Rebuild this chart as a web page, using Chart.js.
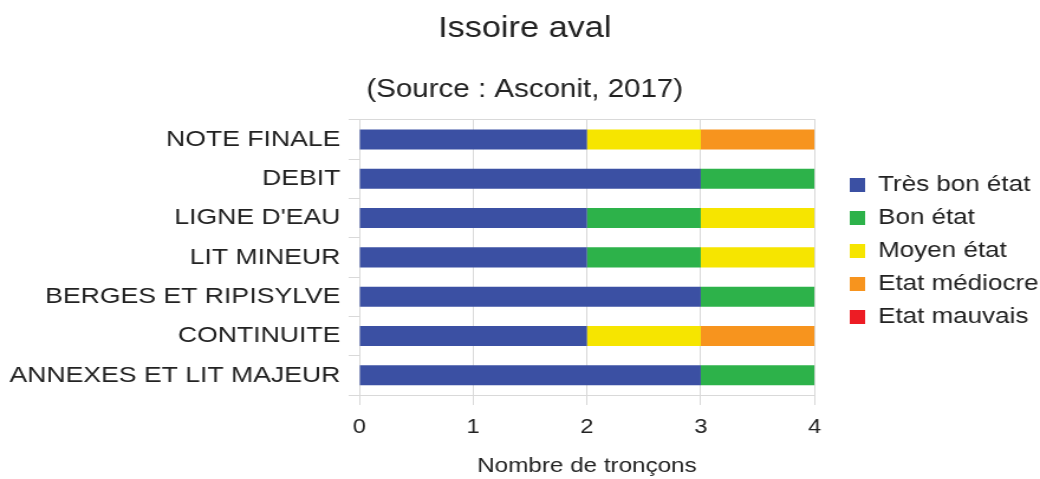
<!DOCTYPE html>
<html>
<head>
<meta charset="utf-8">
<script src="https://cdn.jsdelivr.net/npm/chart.js@4.4.1/dist/chart.umd.min.js"></script>
<style>
  body { margin: 0; background: #fff; }
  /* the reference is stretched sideways, so the canvas is drawn narrower and scaled up */
  #myBarChart { width: 1040px !important; height: 479px !important; display: block; }
</style>
</head>
<body>
<canvas id="myBarChart" width="880" height="479"></canvas>
<script>
var categories = ["NOTE FINALE", "DEBIT", "LIGNE D'EAU", "LIT MINEUR", "BERGES ET RIPISYLVE", "CONTINUITE", "ANNEXES ET LIT MAJEUR"];
var tresBon   = [2, 3, 2, 2, 3, 2, 3];
var bon       = [0, 1, 1, 1, 1, 0, 1];
var moyen     = [1, 0, 1, 1, 0, 1, 0];
var mediocre  = [1, 0, 0, 0, 0, 1, 0];
var mauvais   = [0, 0, 0, 0, 0, 0, 0];
var xTicks    = [0, 1, 2, 3, 4];

var FONT = "'Liberation Sans', Arial, sans-serif";
var grid = '#d9d9d9';
var text = '#222';

// nudges legend and titles to where they sit in the reference
var boxShift = {
    id: 'boxShift',
    afterLayout: function (chart) {
        var lg = chart.legend;
        var w = lg.right - lg.left;
        lg.left = 708;
        lg.right = 708 + w;
        lg.top += 163;
        lg.bottom += 163;
        chart.boxes.forEach(function (b) {
            if (chart.titleBlock && b.constructor === chart.titleBlock.constructor) {
                b.left += 9;
                b.right += 9;
            }
        });
    }
};

var ctxBar = document.getElementById('myBarChart').getContext('2d');

function ds(label, data, color) {
    return {
        label: label,
        data: data,
        backgroundColor: color,
        borderWidth: 0,
        categoryPercentage: 1,
        barPercentage: 0.51
    };
}

let barChart = new Chart(ctxBar, {
    type: 'bar',
    data: {
        labels: categories,
        datasets: [
            ds('Très bon état', tresBon, '#3b50a3'),
            ds('Bon état', bon, '#2db24a'),
            ds('Moyen état', moyen, '#f6e500'),
            ds('Etat médiocre', mediocre, '#f7941e'),
            ds('Etat mauvais', mauvais, '#ed1c24')
        ]
    },
    plugins: [boxShift],
    options: {
        indexAxis: 'y',
        responsive: false,
        animation: false,
        devicePixelRatio: 1,
        layout: { padding: { left: 0, right: 10, top: 0, bottom: 0 } },
        scales: {
            x: {
                stacked: true,
                min: 0,
                max: 4,
                afterBuildTicks: function (scale) {
                    scale.ticks = xTicks.map(function (v) { return { value: v }; });
                },
                afterFit: function (scale) { scale.height = 84; },
                grid: { color: grid, tickLength: 10, tickColor: grid },
                border: { color: grid },
                ticks: { color: text, font: { family: FONT, size: 20 }, padding: 10 },
                title: {
                    display: true,
                    text: 'Nombre de tronçons',
                    color: text,
                    font: { family: FONT, size: 20.5 },
                    padding: { top: 0, bottom: 0 }
                }
            },
            xTop: {
                type: 'linear',
                position: 'top',
                display: true,
                grid: { display: false },
                ticks: { display: false },
                border: { display: true, color: grid },
                afterFit: function (scale) { scale.height = 0; }
            },
            y: {
                stacked: true,
                afterFit: function (scale) { scale.width = 304; },
                grid: { drawOnChartArea: false, offset: true, tickLength: 9, tickColor: grid },
                border: { color: grid },
                ticks: { color: text, font: { family: FONT, size: 22.5 }, padding: 7 }
            }
        },
        plugins: {
            title: {
                display: true,
                text: 'Issoire aval',
                color: text,
                font: { family: FONT, size: 29, weight: 'normal' },
                padding: { top: 12, bottom: 10 }
            },
            subtitle: {
                display: true,
                text: '(Source : Asconit, 2017)',
                color: text,
                font: { family: FONT, size: 25, weight: 'normal' },
                padding: { top: 18, bottom: 15 }
            },
            legend: {
                position: 'right',
                align: 'start',
                labels: {
                    color: text,
                    font: { family: FONT, size: 22 },
                    boxWidth: 13,
                    boxHeight: 14,
                    padding: 11
                }
            },
            tooltip: { enabled: false }
        }
    }
});
</script>
</body>
</html>
